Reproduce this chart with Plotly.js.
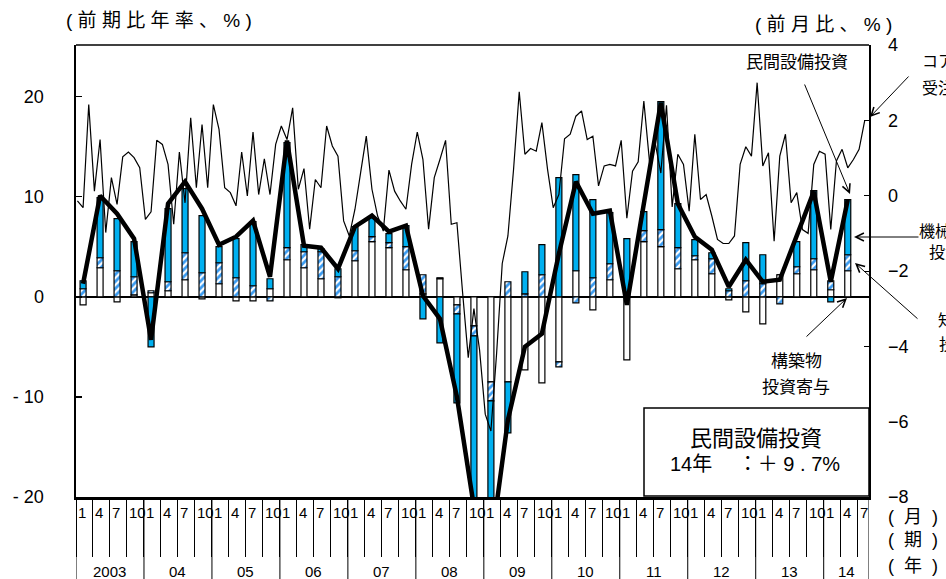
<!DOCTYPE html>
<html>
<head>
<meta charset="utf-8">
<script src="https://cdn.plot.ly/plotly-3.0.1.min.js"></script>
<style>
html,body{margin:0;padding:0;background:#fff;}
#chart{width:946px;height:579px;}
</style>
</head>
<body>
<div id="chart"></div>
<script>

/* ==========================================
   DATA
========================================== */

// quarterly, 2003Q1 - 2014Q2 (前期比年率、%)
const structures = [
  -0.8, 2.9, -0.5, 0.2,
   0.4, 0.6, 1.7, -0.2,
   1.3, -0.4, -0.4, 0.8,
   3.7, 2.9, 1.8, -0.1,
   3.6, 5.5, 4.9, 2.7,
   0.3, 1.8, -0.8, -2.9,
  -8.5, -8.5, -7.3, -8.6,
  -6.5, 2.6, -1.3, 1.7,
  -6.3, 5.5, 5.0, 2.8,
   3.7, 2.3, -0.3, -1.5,
  -2.7, 2.2, 2.3, 2.7,
   0.7, 2.6
];

const intellectual = [
   0.8, 1.0, 2.6, 1.8,
   0.2, 0.9, 2.7, 2.4,
   2.1, 1.9, 1.1, -0.4,
   1.2, 1.6, 2.7, 2.0,
   1.0, 0.5, 0.5, 2.3,
   1.9, 0.1, -0.9, -1.0,
  -1.9, 1.5, 0.3, 2.2,
  -0.5, -0.6, 1.9, 1.6,
   0.0, 1.1, 1.7, 2.1,
   0.4, 1.5, 0.6, 1.6,
   1.3, -0.7, 0.7, 1.1,
   0.9, 1.6
];

const machinery = [
   0.8, 6.0, 5.2, 3.5,
  -5.0, 7.3, 6.4, 5.7,
   1.6, 3.9, 6.4, 1.0,
  10.5, 0.7, 0.3, 0.8,
   2.4, 1.9, 0.9, 2.1,
  -2.2, -4.6, -8.9, -17.1,
 -14.0, -5.1, 2.2, 3.0,
  11.9, 9.6, 7.8, 5.1,
   5.8, 1.9, 12.8, 4.4,
   1.6, 0.6, 0.2, 3.8,
   2.9, 0.0, 2.5, 6.8,
  -0.5, 5.5
];

const capex = [
   1.3, 10.1, 8.3, 5.8,
  -4.3, 9.3, 11.5, 8.8,
   5.2, 6.0, 7.6, 2.0,
  15.6, 5.1, 4.9, 2.8,
   7.0, 8.1, 6.5, 7.1,
   0.1, -2.2, -10.0, -21.0,
 -25.0, -12.3, -5.0, -3.7,
   4.3, 11.5, 8.3, 8.6,
  -0.8, 9.1, 19.4, 9.3,
   6.0, 4.7, 1.0, 3.7,
   1.5, 1.7, 6.0, 10.5,
   1.5, 9.7
];

// monthly, 2003/1 - 2014/8 (前月比、%)
const coreOrders = [
  -0.14, -0.32, 2.42, 0.12, 1.49, -0.98, 0.48, -0.23, 1.03, 1.16, 1.01, 0.74,
  -0.63, -0.43, 1.47, 1.36, 0.83, -0.76, 1.16, -0.19, 2.07, 0.21, 1.89, 0.21,
   2.42, 1.76, 0.21, 0.08, -0.27, 1.16, -0.01, 1.69, 0.03, 0.98, 0.03, 1.36,
   1.85, 1.49, 2.33, 0.17, 0.72, -0.89, 0.43, 0.21, 1.85, 1.32, 1.05, -0.67,
  -1.07, -0.36, 0.61, 1.58, 0.17, -0.54, -0.94, 0.68, 0.12, -0.14, -0.36, 0.83,
   1.69, 0.96, -0.89, 0.48, 0.96, 1.47, -0.76, -0.72, -2.57, -4.30, -3.00, -4.10,
  -5.80, -6.25, -4.20, -1.80, -1.07, 0.70, 2.76, 1.10, 1.25, 1.18, 1.94, 0.70,
  -0.32, 0.03, 1.51, 1.63, 2.11, 2.25, 1.49, 1.58, 0.26, 0.79, 0.83, 0.79,
   1.47, -0.60, 0.65, 0.90, 2.51, 0.90, 1.40, 0.60, 2.40, -0.30, 1.10, 0.83,
  -0.41, 1.63, -0.10, 0.03, -0.54, -1.16, -1.27, -1.27, -1.07, 0.83, 1.30, 1.05,
   3.00, 0.79, 1.14, -1.21, 1.05, 1.63, -0.19, 0.08, -0.90, -1.00, 0.83, 1.18,
   1.10, -0.90, 0.92, 1.23, 0.74, 0.96, 1.23, 2.00
];

const yearLabels = ["2003","04","05","06","07","08","09","10","11","12","13","14"];
const monthLabels = ["1","4","7","10"];
const leftTicks = [-20,-10,0,10,20];
const rightTicks = [-8,-6,-4,-2,0,2,4];


/* ==========================================
   HELPERS
========================================== */

const MONTHS = 140;          // 2003/1 .. 2014/8
const OFFSET = 0.25;         // point position inside a month

const monthX = coreOrders.map((v,i)=>i+OFFSET);
const quarterX = capex.map((v,i)=>i*3+1+OFFSET);

// pixel -> paper (plot area 76..869 x 45..497)
const L = 76, R = 869, T = 45, B = 497;
function px(x){ return (x-L)/(R-L); }
function py(y){ return (B-y)/(B-T); }

const JP = "Liberation Sans, Noto Sans CJK JP";


/* ==========================================
   TRACES
========================================== */

const barLine = {color:"black", width:1.2};

const traces = [
  {
    type:"bar", x:quarterX, y:structures, width:1.06,
    name:"構築物投資寄与",
    marker:{color:"white", line:barLine}
  },
  {
    type:"bar", x:quarterX, y:intellectual, width:1.06,
    name:"知的財産投資寄与",
    marker:{
      color:"white",
      pattern:{shape:"/", fgcolor:"#3a9bf0", bgcolor:"white", size:5, solidity:0.55},
      line:barLine
    }
  },
  {
    type:"bar", x:quarterX, y:machinery, width:1.06,
    name:"機械投資寄与",
    marker:{color:"#00B0F0", line:barLine}
  },
  {
    type:"scatter", mode:"lines", x:quarterX, y:capex,
    name:"民間設備投資",
    line:{color:"black", width:4.5}
  },
  {
    type:"scatter", mode:"lines", x:monthX, y:coreOrders, yaxis:"y2",
    name:"コア機械受注",
    line:{color:"black", width:1.2}
  }
];


/* ==========================================
   AXIS DECORATION
========================================== */

const shapes = [];
const annotations = [];

// year dividers
for(let k=0;k<=yearLabels.length;k++){
  const m = Math.min(k*12, MONTHS);
  shapes.push({type:"line", xref:"x", yref:"paper", x0:m, x1:m, y0:0, y1:py(579),
    line:{color:"black", width:1}});
}

// month labels under each quarter tick
for(let q=0;q*3<MONTHS;q++){
  annotations.push({xref:"x", yref:"paper", x:q*3, y:py(512),
    text:monthLabels[q%4], showarrow:false, xanchor:"left", yanchor:"middle",
    font:{size:15, color:"black"}});
}

// year labels
yearLabels.forEach((lab,k)=>{
  const a = k*12, b = Math.min(k*12+12, MONTHS);
  annotations.push({xref:"x", yref:"paper", x:(a+b)/2, y:py(571),
    text:lab, showarrow:false, xanchor:"center", yanchor:"middle",
    font:{size:15, color:"black"}});
});

// plain text label in pixel position
function label(text, x, y, anchor, size){
  annotations.push({xref:"paper", yref:"paper", x:px(x), y:py(y), text:text,
    showarrow:false, xanchor:anchor, yanchor:"middle",
    font:{size:size, color:"black", family:JP}});
}

label("( 前 期 比 年 率 、 % )", 64, 21, "left", 19);
label("( 前 月 比 、 % )", 753, 24, "left", 19);
label("(  月  )", 886, 517, "left", 18);
label("(  期  )", 886, 540, "left", 18);
label("(  年  )", 886, 566, "left", 18);

// series labels
label("民間設備投資", 797, 63, "center", 17);
label("コア機械", 920, 61, "left", 16);
label("受注（右目盛）", 920, 88, "left", 16);
label("機械・設備", 917, 231, "left", 16);
label("投資寄与", 927, 252, "left", 16);
label("知的財産", 936, 320, "left", 16);
label("投資寄与", 937, 345, "left", 16);
label("構築物", 796, 361, "center", 17);
label("投資寄与", 796, 387, "center", 17);

// arrows (tail -> head)
function arrow(x0, y0, x1, y1){
  annotations.push({xref:"paper", yref:"paper", x:px(x1), y:py(y1),
    ax:x0-x1, ay:y0-y1, text:"", showarrow:true,
    arrowhead:5, arrowsize:1.6, arrowwidth:1, arrowcolor:"black"});
}

arrow(804, 83, 850, 194);
arrow(910, 75, 870, 117);
arrow(920, 237, 854, 237);
arrow(919, 320, 855, 263);
arrow(805, 338, 847, 298);

// summary box
shapes.push({type:"rect", xref:"paper", yref:"paper",
  x0:px(644), x1:px(869), y0:py(496), y1:py(408),
  fillcolor:"white", line:{color:"black", width:1.5}});
label("民間設備投資", 756, 438, "center", 22);
label("14年　 ：＋ 9 . 7%", 668, 464, "left", 20);

// top frame
shapes.push({type:"line", xref:"paper", yref:"paper", x0:0, x1:1, y0:1, y1:1,
  line:{color:"black", width:1.5}});


/* ==========================================
   LAYOUT
========================================== */

const layout = {
  width:946,
  height:579,
  margin:{l:76, r:77, t:45, b:82},
  paper_bgcolor:"white",
  plot_bgcolor:"white",
  showlegend:false,
  barmode:"relative",
  bargap:0,
  font:{family:JP, color:"black", size:15},
  xaxis:{
    range:[0, MONTHS],
    tickvals:Array.from({length:Math.ceil(MONTHS/3)}, (v,i)=>i*3),
    showticklabels:false,
    ticks:"outside", ticklen:57, tickwidth:1, tickcolor:"black",
    showline:true, linecolor:"black", linewidth:2.5,
    showgrid:false, zeroline:false
  },
  yaxis:{
    range:[-20, 25.15],
    tickvals:leftTicks,
    ticktext:leftTicks.map(v=>v<0 ? "- "+Math.abs(v) : String(v)),
    ticks:"inside", ticklen:6, tickwidth:1.5, tickcolor:"black",
    ticklabelstandoff:26,
    tickfont:{size:18, family:"Liberation Sans"},
    showline:true, linecolor:"black", linewidth:2.5,
    showgrid:false,
    zeroline:true, zerolinecolor:"black", zerolinewidth:1.5
  },
  yaxis2:{
    overlaying:"y", side:"right",
    range:[-8, 4],
    tickvals:rightTicks,
    ticks:"inside", ticklen:5, tickwidth:1, tickcolor:"black",
    ticklabelstandoff:14,
    tickfont:{size:18, family:"Liberation Sans"},
    showline:true, linecolor:"black", linewidth:1.5,
    showgrid:false, zeroline:false
  },
  shapes:shapes,
  annotations:annotations
};

Plotly.newPlot("chart", traces, layout, {displayModeBar:false, staticPlot:true});

</script>
</body>
</html>
